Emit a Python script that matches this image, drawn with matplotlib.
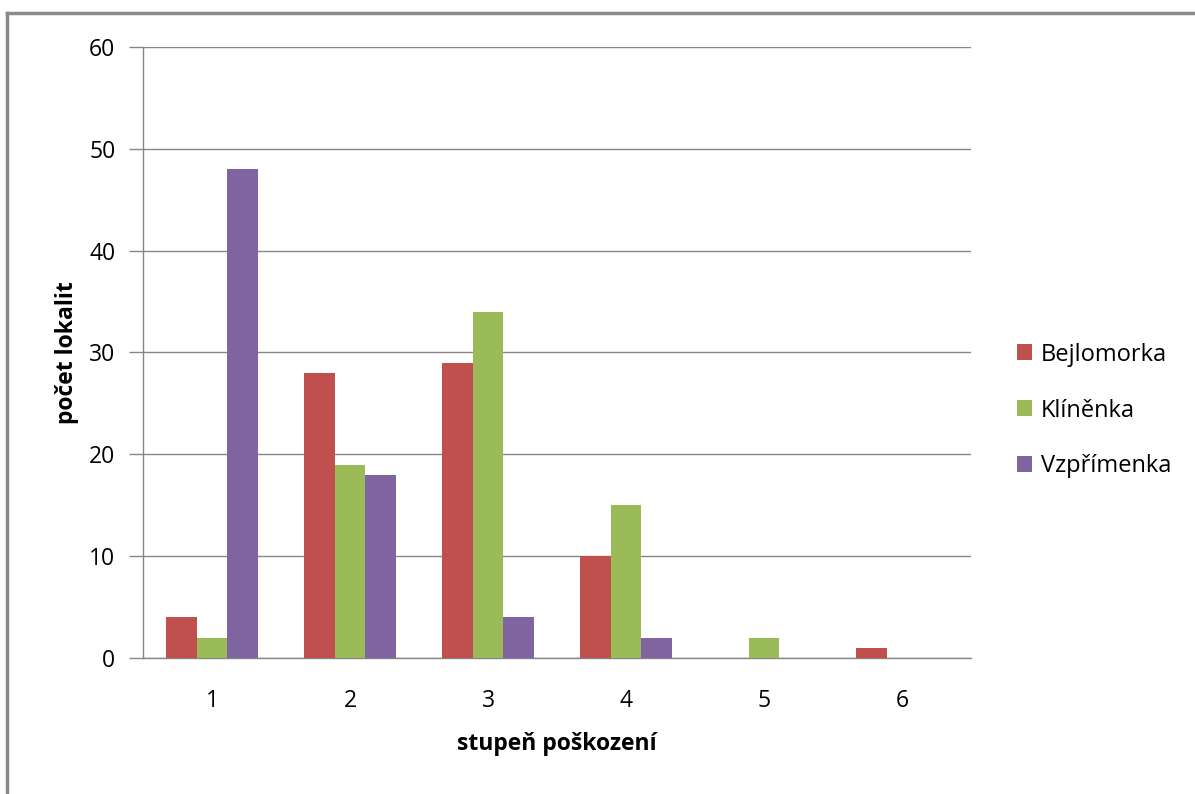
import numpy as np
import matplotlib.pyplot as plt
from matplotlib.lines import Line2D
from matplotlib.patches import Patch

plt.rcParams['font.family'] = ['Open Sans', 'DejaVu Sans']

stupne = ['1', '2', '3', '4', '5', '6']
bejlomorka = [4, 28, 29, 10, 0, 1]
klinenka = [2, 19, 34, 15, 2, 0]
vzprimenka = [48, 18, 4, 2, 0, 0]

series = [("Bejlomorka", bejlomorka, '#C0504D'),
          ("Klíněnka", klinenka, '#9BBB59'),
          ("Vzpřímenka", vzprimenka, '#8064A2')]

fig = plt.figure(figsize=(11.95, 7.94), dpi=100)
ax = fig.add_axes([0.1197, 0.1713, 0.6929, 0.7695])

x = np.arange(len(stupne))
w = 1 / 4.5
for i, (name, vals, col) in enumerate(series):
    ax.bar(x + (i - 1) * w, vals, width=w, color=col, label=name, zorder=3)

ax.set_xlim(-0.5, len(stupne) - 0.5)
ax.set_ylim(0, 60)
ax.set_yticks(range(0, 61, 10))
ax.set_xticks(x)
ax.set_xticklabels(stupne)
ax.grid(axis='y', color='#868686', linewidth=1.0, zorder=0)
ax.tick_params(axis='y', length=10, width=1.0, color='#868686', pad=10, labelsize=16.5)
ax.tick_params(axis='x', length=0, pad=22, labelsize=16.5)

for s in ['top', 'right']:
    ax.spines[s].set_visible(False)
for s in ['left', 'bottom']:
    ax.spines[s].set_color('#868686')
    ax.spines[s].set_linewidth(1.0)

ax.set_xlabel("stupeň poškození", fontsize=16.5, fontweight='bold', labelpad=14)
ax.set_ylabel("počet lokalit", fontsize=16.5, fontweight='bold', labelpad=7)

handles = [Patch(facecolor=c, label=n) for n, _, c in series]
ax.legend(handles=handles, loc='center left', bbox_to_anchor=(1.03, 0.405),
          frameon=False, fontsize=17, handlelength=0.65, handleheight=0.65,
          handletextpad=0.35, labelspacing=1.35)

# outer chart frame (top and left edges only)
fig.add_artist(Line2D([7 / 1195, 1], [1 - 13 / 794, 1 - 13 / 794],
                      transform=fig.transFigure, color='#8a8a8a', linewidth=2.5))
fig.add_artist(Line2D([7 / 1195, 7 / 1195], [0, 1 - 13 / 794],
                      transform=fig.transFigure, color='#8a8a8a', linewidth=2.5))

fig.savefig('out.png', dpi=100)
